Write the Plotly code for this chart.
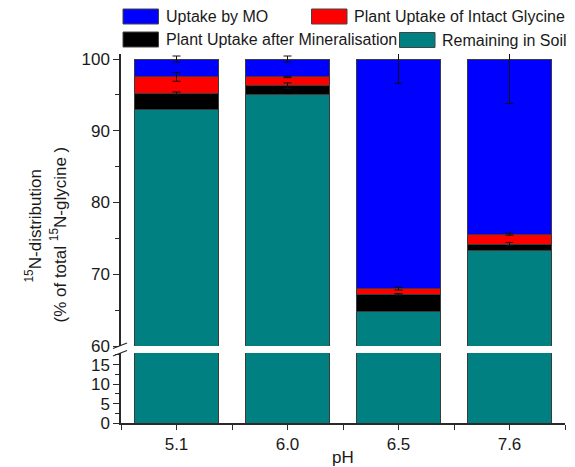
import numpy as np
import plotly.graph_objects as go

# ---------------- data ----------------
ph_labels = ["5.1", "6.0", "6.5", "7.6"]
soil = [92.9, 95.1, 64.8, 73.3]          # Remaining in Soil
mineral = [2.3, 1.2, 2.4, 0.9]           # Plant Uptake after Mineralisation
intact = [2.3, 1.2, 0.8, 1.4]            # Plant Uptake of Intact Glycine
mo = [2.5, 2.5, 32.0, 24.4]              # Uptake by MO
mineral_err = [0.2, 0.37, 0.1, 0.23]
intact_err = [0.6, 0.1, 0.2, 0.15]
mo_err = [0.42, 0.42, 3.4, 6.2]

series = [
    ("Remaining in Soil", soil, "#008080"),
    ("Plant Uptake after Mineralisation", mineral, "#000000"),
    ("Plant Uptake of Intact Glycine", intact, "#FF0000"),
    ("Uptake by MO", mo, "#0000FF"),
]

W, H = 575, 467
L, R, T, B = 121, 10, 54, 44
PW, PH = W - L - R, H - T - B
FONT = "Liberation Sans, Arial, sans-serif"
TXT = "#1a1a1a"
AX = "#2a2a2a"


def px(x):
    return (x - L) / PW


def py(y):
    return (H - B - y) / PH


xs = np.arange(len(ph_labels))
fig = go.Figure()

# top panel (stacked)
for name, vals, col in series:
    fig.add_trace(go.Bar(x=xs, y=vals, name=name, marker_color=col,
                         marker_line=dict(color="#3a3a3a", width=1),
                         width=0.76, xaxis="x2", yaxis="y2", showlegend=False))
# bottom panel (soil only visible)
fig.add_trace(go.Bar(x=xs, y=soil, marker_color="#008080",
                     marker_line=dict(color="#3a3a3a", width=1),
                     width=0.76, xaxis="x", yaxis="y", showlegend=False))

# error bars at segment tops
c1 = np.array(soil) + np.array(mineral)
c2 = c1 + np.array(intact)
c3 = c2 + np.array(mo)
for tops, errs in [(c1, mineral_err), (c2, intact_err), (c3, mo_err)]:
    fig.add_trace(go.Scatter(x=xs, y=tops, mode="markers",
                             marker=dict(size=1, opacity=0),
                             error_y=dict(type="data", array=errs, visible=True,
                                          color="#111", thickness=1, width=4),
                             cliponaxis=False, xaxis="x2", yaxis="y2",
                             showlegend=False, hoverinfo="skip"))

d_bot = (H - B - 353) / PH
d_top = (H - B - 346) / PH

axis_common = dict(showline=True, linecolor=AX, linewidth=1.5, ticks="outside",
                   ticklen=6, tickwidth=1.2, tickcolor=AX, showgrid=False,
                   zeroline=False, automargin=False,
                   tickfont=dict(family=FONT, size=17, color=TXT))

fig.update_layout(
    width=W, height=H, margin=dict(l=L, r=R, t=T, b=B, autoexpand=False),
    paper_bgcolor="white", plot_bgcolor="white", barmode="stack",
    showlegend=False,
    xaxis=dict(domain=[0, 1], range=[-0.5, 3.5], anchor="y",
               tickvals=list(xs), ticktext=ph_labels,
               minor=dict(tick0=-0.5, dtick=1, ticks="outside", ticklen=5,
                          tickcolor=AX, tickwidth=1.2),
               **{**axis_common, "ticklen": 5}),
    xaxis2=dict(domain=[0, 1], range=[-0.5, 3.5], anchor="y2", matches="x",
                visible=False),
    yaxis=dict(domain=[0, d_bot], range=[0, 18], tickvals=[0, 5, 10, 15],
               minor=dict(tick0=0, dtick=2.5, ticks="outside", ticklen=4,
                          tickcolor=AX, tickwidth=1.2),
               anchor="x", **axis_common),
    yaxis2=dict(domain=[d_top, 1], range=[60, 100.7], tickvals=[60, 70, 80, 90, 100],
                minor=dict(tick0=60, dtick=5, ticks="outside", ticklen=4,
                           tickcolor=AX, tickwidth=1.2),
                anchor="x2", **axis_common),
)

shapes = []
annos = []
# break marks
for (x0, y0, x1, y1) in [(113, 348.5, 127, 343), (113, 356, 127, 350.5)]:
    shapes.append(dict(type="line", xref="paper", yref="paper",
                       x0=px(x0), y0=py(y0), x1=px(x1), y1=py(y1),
                       line=dict(color=AX, width=1.3), layer="above"))

# legend background (covers error bars above plot)
shapes.append(dict(type="rect", xref="paper", yref="paper",
                   x0=px(112), x1=px(575), y0=py(51), y1=py(0),
                   fillcolor="white", line=dict(width=0), layer="above"))

legend_items = [
    ("Uptake by MO", "#0000FF", 123, 9),
    ("Plant Uptake of Intact Glycine", "#FF0000", 311.5, 9),
    ("Plant Uptake after Mineralisation", "#000000", 123, 32),
    ("Remaining in Soil", "#008080", 399.5, 32.5),
]
for name, col, x0, y0 in legend_items:
    shapes.append(dict(type="rect", xref="paper", yref="paper",
                       x0=px(x0), x1=px(x0 + 35.5), y0=py(y0 + 15), y1=py(y0),
                       fillcolor=col, line=dict(color="#444", width=1),
                       layer="above"))
    annos.append(dict(text=name, xref="paper", yref="paper",
                      x=px(x0 + 40.5), y=py(y0 + 7.5), xanchor="left",
                      yanchor="middle", showarrow=False,
                      font=dict(family=FONT, size=16, color=TXT)))

# x-axis title
annos.append(dict(text="pH", xref="paper", yref="paper", x=px(343), y=py(457),
                  xanchor="center", yanchor="middle", showarrow=False,
                  font=dict(family=FONT, size=17, color=TXT)))

# y-axis title (two lines)
annos.append(dict(text="<sup>15</sup>N-distribution", xref="paper", yref="paper",
                  x=px(33), y=py(226.5), textangle=-90, showarrow=False,
                  xanchor="center", yanchor="middle",
                  font=dict(family=FONT, size=17, color=TXT)))
annos.append(dict(text="(% of total <sup>15</sup>N-glycine )", xref="paper",
                  yref="paper", x=px(58), y=py(234.5), textangle=-90,
                  showarrow=False, xanchor="center", yanchor="middle",
                  font=dict(family=FONT, size=17, color=TXT)))

fig.update_layout(shapes=shapes, annotations=annos)
fig.write_html("out.html")
